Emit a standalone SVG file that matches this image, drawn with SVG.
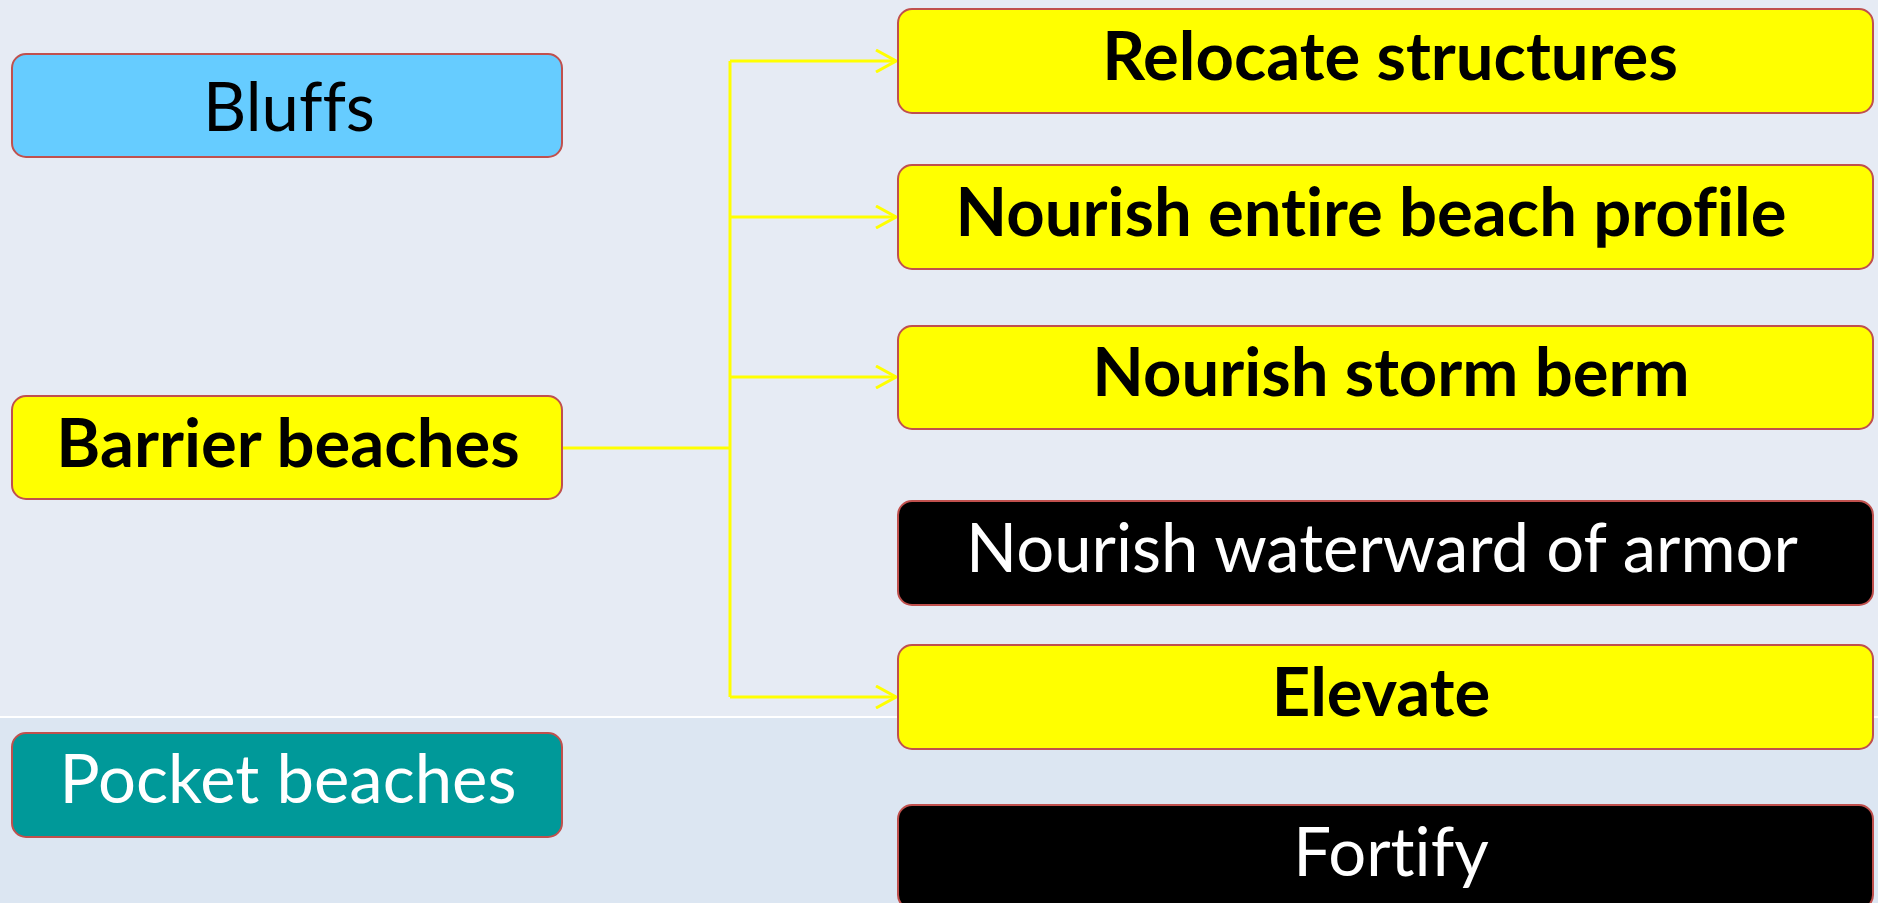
<svg xmlns="http://www.w3.org/2000/svg" width="1878" height="903" viewBox="0 0 1878 903">
<defs>
<style>
.box{stroke:#C0504D;stroke-width:2}
.y{fill:#FFFF00}
.k{fill:#000000}
.t{font-family:Lato,"Open Sans","Liberation Sans",sans-serif;font-size:67px;text-anchor:middle;font-variant-ligatures:none}
.b{font-weight:bold;fill:#000}
.r{font-weight:normal}
.w{fill:#FFFFFF}
.c{fill:none;stroke:#FFFF00;stroke-width:3}
</style>
<marker id="arr" viewBox="0 0 22 24" refX="21" refY="12" markerWidth="22" markerHeight="24" markerUnits="userSpaceOnUse" orient="auto">
<path d="M1,1 L21,12 L1,23" fill="none" stroke="#FFFF00" stroke-width="3"/>
</marker>
</defs>
<rect x="0" y="0" width="1878" height="717" fill="#E6EBF4"/>
<rect x="0" y="717" width="1878" height="186" fill="#DCE6F2"/>
<line x1="0" y1="717" x2="1878" y2="717" stroke="#FFFFFF" stroke-width="2"/>
<g id="connectors">
<path class="c" d="M562,448 H730"/>
<path class="c" d="M730,61 V697"/>
<path class="c" d="M730,61 H896" marker-end="url(#arr)"/>
<path class="c" d="M730,217 H896" marker-end="url(#arr)"/>
<path class="c" d="M730,377 H896" marker-end="url(#arr)"/>
<path class="c" d="M730,697 H896" marker-end="url(#arr)"/>
</g>
<g id="bluffs">
<rect class="box" x="12" y="54" width="550" height="103" rx="14" fill="#66CCFF"/>
<text class="t r" x="289" y="131" fill="#000">Bluffs</text>
</g>
<g id="barrier">
<rect class="box y" x="12" y="396" width="550" height="103" rx="14"/>
<text class="t b" x="288" y="467">Barrier beaches</text>
</g>
<g id="pocket">
<rect class="box" x="12" y="733" width="550" height="104" rx="14" fill="#009999"/>
<text class="t r w" x="288" y="803">Pocket beaches</text>
</g>
<g id="relocate">
<rect class="box y" x="898" y="9" width="975" height="104" rx="14"/>
<text class="t b" x="1390" y="80">Relocate structures</text>
</g>
<g id="nourish-entire">
<rect class="box y" x="898" y="165" width="975" height="104" rx="14"/>
<text class="t b" x="1371" y="236">Nourish entire beach profile</text>
</g>
<g id="nourish-storm">
<rect class="box y" x="898" y="326" width="975" height="103" rx="14"/>
<text class="t b" x="1391" y="396">Nourish storm berm</text>
</g>
<g id="nourish-waterward">
<rect class="box k" x="898" y="501" width="975" height="104" rx="14"/>
<text class="t r w" x="1382" y="572">Nourish waterward of armor</text>
</g>
<g id="elevate">
<rect class="box y" x="898" y="645" width="975" height="104" rx="14"/>
<text class="t b" x="1381" y="716">Elevate</text>
</g>
<g id="fortify">
<rect class="box k" x="898" y="805" width="975" height="104" rx="14"/>
<text class="t r w" x="1391" y="876">Fortify</text>
</g>
</svg>
